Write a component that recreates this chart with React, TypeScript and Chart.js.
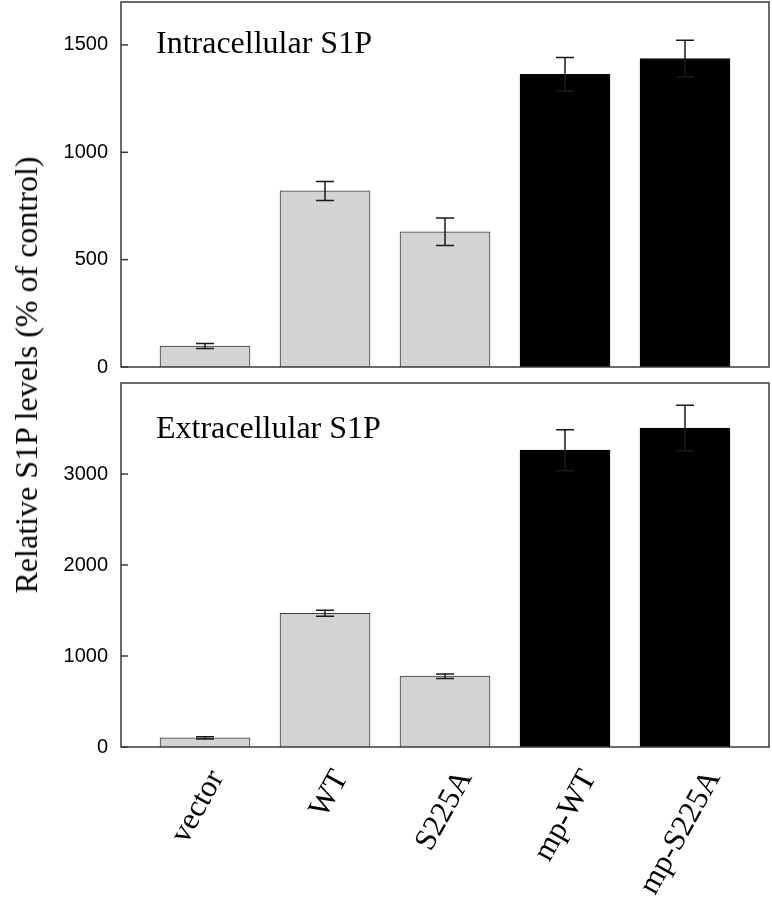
import React, { useEffect, useRef } from 'react';
import { Chart, registerables } from 'chart.js';

Chart.register(...registerables);

// ---- data ----
const categories = ['vector', 'WT', 'S225A', 'mp-WT', 'mp-S225A'];
const intraValues = [98, 820, 630, 1363, 1437];
const intraErrors = [12, 44, 64, 78, 85];
const extraValues = [100, 1470, 778, 3262, 3505];
const extraErrors = [12, 32, 25, 225, 250];
const intraTicks = [0, 500, 1000, 1500];
const extraTicks = [0, 1000, 2000, 3000];
const intraMax = 1700;
const extraMax = 4000;
const barColors = ['#d3d3d3', '#d3d3d3', '#d3d3d3', '#000000', '#000000'];
const barBorders = ['#3a3a3a', '#3a3a3a', '#3a3a3a', '#000000', '#000000'];

const SERIF = '"Liberation Serif", "Times New Roman", serif';
const SANS = '"Liberation Sans", Arial, sans-serif';

const panelPlugin = {
  id: 'panel',
  afterDatasetsDraw(chart: any, _args: any, opts: any) {
    const { ctx, chartArea: a } = chart;
    const x = chart.scales.x;
    const y = chart.scales.y;
    const ds = chart.data.datasets[0];
    ctx.save();
    ctx.strokeStyle = '#1a1a1a';
    ctx.lineWidth = 1.5;
    ds.data.forEach((p: any, i: number) => {
      const e = ds.errorBars[i];
      const px = x.getPixelForValue(p.x);
      const yt = y.getPixelForValue(p.y + e);
      const yb = y.getPixelForValue(p.y - e);
      ctx.beginPath();
      ctx.moveTo(px, yt);
      ctx.lineTo(px, yb);
      ctx.moveTo(px - 9, yt);
      ctx.lineTo(px + 9, yt);
      ctx.moveTo(px - 9, yb);
      ctx.lineTo(px + 9, yb);
      ctx.stroke();
    });
    ctx.strokeStyle = '#3a3a3a';
    ctx.lineWidth = 1.5;
    ctx.strokeRect(a.left, a.top, a.right - a.left, a.bottom - a.top);
    y.ticks.forEach((t: any) => {
      const py = y.getPixelForValue(t.value);
      ctx.beginPath();
      ctx.moveTo(a.left, py);
      ctx.lineTo(a.left + 7, py);
      ctx.stroke();
    });
    ctx.fillStyle = '#000';
    ctx.font = '32px ' + SERIF;
    ctx.textAlign = 'left';
    ctx.textBaseline = 'alphabetic';
    ctx.fillText(opts.text, a.left + 35, a.top + opts.offset);
    ctx.restore();
  },
};

function makeConfig(values: number[], errors: number[], ticks: number[], max: number, title: string, offset: number, showX: boolean, padding: any): any {
  const scales: any = {
    x: {
      type: 'linear',
      min: 0.3,
      max: 5.7,
      offset: false,
      display: false,
    },
    y: {
      type: 'linear',
      min: 0,
      max,
      grid: { display: false, drawTicks: false },
      border: { display: false },
      afterBuildTicks: (scale: any) => {
        scale.ticks = ticks.map((v) => ({ value: v }));
      },
      afterFit: (scale: any) => {
        scale.width = 121;
        scale.paddingTop = 0;
        scale.paddingBottom = 0;
      },
      ticks: {
        padding: 13,
        color: '#000',
        font: { family: SANS, size: 20 },
        callback: (v: number) => String(v),
      },
    },
  };
  if (showX) {
    // category label axis (labels are placed slightly right of the bars, as in the original figure)
    scales.xl = {
      type: 'linear',
      position: 'bottom',
      min: 0.227,
      max: 5.444,
      offset: false,
      grid: { display: false, drawTicks: false },
      border: { display: false },
      afterBuildTicks: (scale: any) => {
        scale.ticks = categories.map((_, i) => ({ value: i + 1 }));
      },
      afterFit: (scale: any) => {
        scale.height = 153;
        scale.paddingLeft = 0;
        scale.paddingRight = 0;
      },
      ticks: {
        autoSkip: false,
        minRotation: 61,
        maxRotation: 61,
        padding: 17,
        color: '#000',
        font: { family: SERIF, size: 31 },
        callback: (v: number) => categories[Math.round(v) - 1] ?? '',
      },
    };
  }
  return {
    type: 'bar',
    data: {
      datasets: [
        {
          data: values.map((v, i) => ({ x: i + 1, y: v })),
          errorBars: errors,
          backgroundColor: barColors,
          borderColor: barBorders,
          borderWidth: 1,
          barThickness: 90,
        },
      ],
    },
    options: {
      responsive: false,
      animation: false,
      layout: { padding },
      plugins: {
        legend: { display: false },
        tooltip: { enabled: false },
        title: { display: false },
        panel: { text: title, offset },
      },
      scales,
    },
    plugins: [panelPlugin],
  };
}

export default function App() {
  const ref1 = useRef<HTMLCanvasElement>(null);
  const ref2 = useRef<HTMLCanvasElement>(null);

  useEffect(() => {
    const c1 = new Chart(
      ref1.current as HTMLCanvasElement,
      makeConfig(intraValues, intraErrors, intraTicks, intraMax, 'Intracellular S1P', 51, false, { top: 2, right: 3, bottom: 8, left: 0 })
    );
    const c2 = new Chart(
      ref2.current as HTMLCanvasElement,
      makeConfig(extraValues, extraErrors, extraTicks, extraMax, 'Extracellular S1P', 55, true, { top: 8, right: 3, bottom: 0, left: 0 })
    );
    return () => {
      c1.destroy();
      c2.destroy();
    };
  }, []);

  return (
    <div style={{ position: 'absolute', left: 0, top: 0, width: 772, height: 900, background: '#fff', overflow: 'hidden' }}>
      <canvas ref={ref1} width={772} height={375} style={{ position: 'absolute', left: 0, top: 0, width: 772, height: 375 }} />
      <canvas ref={ref2} width={772} height={525} style={{ position: 'absolute', left: 0, top: 375, width: 772, height: 525 }} />
      <div
        style={{
          position: 'absolute',
          left: 26,
          top: 375,
          transform: 'translate(-50%, -50%) rotate(-90deg)',
          whiteSpace: 'nowrap',
          fontFamily: SERIF,
          fontSize: 32,
          lineHeight: '32px',
          color: '#000',
        }}
      >
        Relative S1P levels (% of control)
      </div>
    </div>
  );
}
